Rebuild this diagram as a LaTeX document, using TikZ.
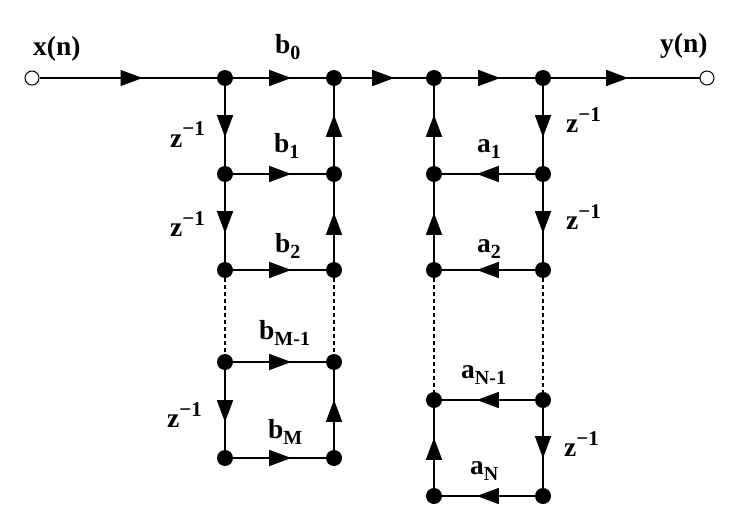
\documentclass[tikz,border=0pt]{standalone}
\usepackage{fontspec}
\setmainfont{Liberation Serif}[BoldFont={Liberation Serif Bold}]
\usetikzlibrary{arrows.meta,decorations.markings}
\newcommand{\labsub}[2]{#1\raisebox{-6pt}{\fontsize{20}{20}\selectfont #2}}
\newcommand{\zinv}{z\raisebox{11pt}{\fontsize{21}{21}\selectfont −1}}
\tikzset{
  dot/.style={circle,fill=black,draw=none,inner sep=0pt,minimum size=16pt},
  port/.style={circle,fill=white,draw=black,line width=1pt,inner sep=0pt,minimum size=14pt},
  wire/.style={line width=1.5pt,draw=black},
  link/.style={line width=1.1pt,draw=black,dash pattern=on 4pt off 3pt},
  flow/.style={wire,postaction={decorate},decoration={markings,mark=at position #1pt with {\arrow{Triangle[length=22pt,width=16pt]}}}},
  lab/.style={anchor=base west,inner sep=0pt,font=\bfseries\fontsize{27.5}{27.5}\selectfont},
}
\begin{document}
\begin{tikzpicture}[x=1pt,y=-1pt]
\useasboundingbox (0,0) rectangle (747,516);
\node[port] (in) at (32,78) {};
\node[port] (out) at (707,78) {};
\foreach \n/\x/\y in {b0l/225/78,b0r/334/78,b1l/225/174,b1r/334/174,b2l/225/270,b2r/334/270,b3l/225/362,b3r/334/362,b4l/225/458,b4r/334/458,
  a0l/434/78,a0r/543/78,a1l/434/174,a1r/543/174,a2l/434/270,a2r/543/270,a3l/434/400,a3r/543/400,a4l/434/496,a4r/543/496}
  \node[dot] (\n) at (\x,\y) {};
% top line
\draw[flow=103] (in) -- (b0l);
\draw[flow=58] (b0l) -- (b0r);
\draw[flow=52] (b0r) -- (a0l);
\draw[flow=58] (a0l) -- (a0r);
\draw[flow=77] (a0r) -- (out);
% feed-forward
\draw[flow=51] (b0l) -- (b1l);
\draw[flow=51] (b1l) -- (b2l);
\draw[flow=52] (b3l) -- (b4l);
\draw[flow=51] (b1r) -- (b0r);
\draw[flow=49] (b2r) -- (b1r);
\draw[flow=50] (b4r) -- (b3r);
\draw[flow=58] (b1l) -- (b1r);
\draw[flow=58] (b2l) -- (b2r);
\draw[flow=58] (b3l) -- (b3r);
\draw[flow=58] (b4l) -- (b4r);
\draw[link] (b2l) -- (b3l);
\draw[link] (b2r) -- (b3r);
% feedback
\draw[flow=51] (a0r) -- (a1r);
\draw[flow=51] (a1r) -- (a2r);
\draw[flow=50] (a3r) -- (a4r);
\draw[flow=51] (a1l) -- (a0l);
\draw[flow=49] (a2l) -- (a1l);
\draw[flow=50] (a4l) -- (a3l);
\draw[flow=58] (a1r) -- (a1l);
\draw[flow=58] (a2r) -- (a2l);
\draw[flow=58] (a3r) -- (a3l);
\draw[flow=58] (a4r) -- (a4l);
\draw[link] (a2l) -- (a3l);
\draw[link] (a2r) -- (a3r);
% labels
\node[lab] (tx) at (33,56) {x(n)};
\node[lab] (ty) at (660,53) {y(n)};
\node[lab] (tb0) at (275,54) {\labsub{b}{0}};
\node[lab] (tb1) at (274,153) {\labsub{b}{1}};
\node[lab] (tb2) at (275,252) {\labsub{b}{2}};
\node[lab] (tb3) at (259,339) {\labsub{b}{M-1}};
\node[lab] (tb4) at (268,438) {\labsub{b}{M}};
\node[lab] (ta1) at (477,153) {\labsub{a}{1}};
\node[lab] (ta2) at (477,252) {\labsub{a}{2}};
\node[lab] (ta3) at (461,378) {\labsub{a}{N-1}};
\node[lab] (ta4) at (470,474) {\labsub{a}{N}};
\node[lab] (z1) at (170,147) {\zinv};
\node[lab] (z2) at (170,236) {\zinv};
\node[lab] (z3) at (167,427) {\zinv};
\node[lab] (z4) at (566,133) {\zinv};
\node[lab] (z5) at (566,229) {\zinv};
\node[lab] (z6) at (564,456) {\zinv};
\end{tikzpicture}
\end{document}
